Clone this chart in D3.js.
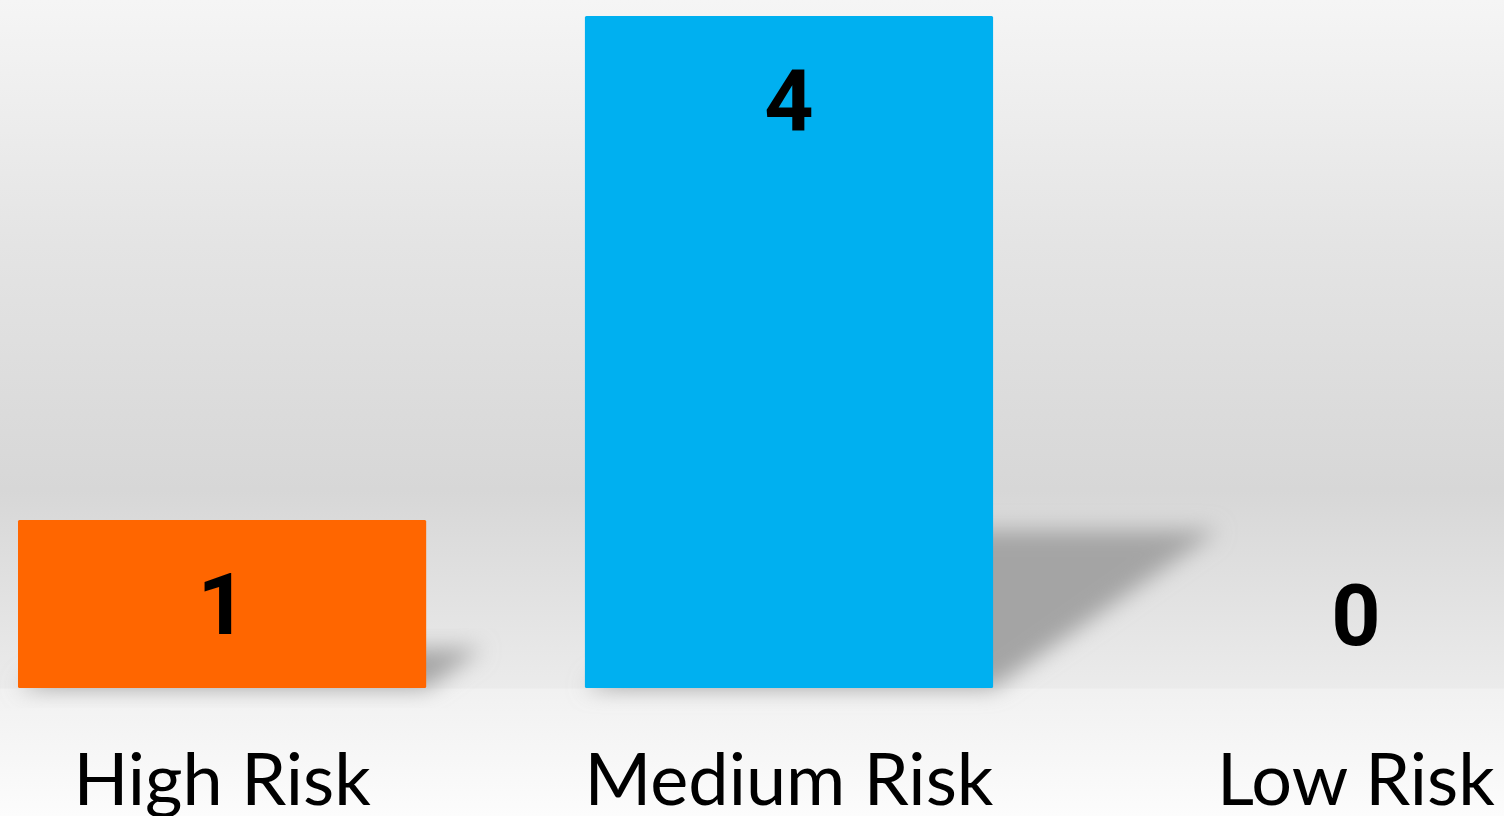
<!DOCTYPE html>
<html>
<head>
<meta charset="utf-8">
<script src="https://cdn.jsdelivr.net/npm/d3@7"></script>
<style>
  html, body { margin: 0; padding: 0; overflow: hidden; }
</style>
</head>
<body>
<script>
// chart data
var categories = ['High Risk', 'Medium Risk', 'Low Risk'];
var values = [1, 4, 0];
var colors = ['#ff6600', '#00b0f0', '#a5a5a5'];

w = 1504;
h = 816;
baseline = 688;

var svg = d3.select("body")
  .append("svg")
    .attr("width", w)
    .attr("height", h);

var defs = svg.append("defs");

// background gradient (wall + floor)
var bg = defs.append("linearGradient")
    .attr("id", "bg")
    .attr("x1", 0).attr("y1", 0).attr("x2", 0).attr("y2", 1);
bg.append("stop").attr("offset", 0).attr("stop-color", "#f5f5f5");
bg.append("stop").attr("offset", 0.3).attr("stop-color", "#e4e4e4");
bg.append("stop").attr("offset", 0.6).attr("stop-color", "#d7d7d7");
bg.append("stop").attr("offset", 0.843).attr("stop-color", "#ebebeb");
bg.append("stop").attr("offset", 0.845).attr("stop-color", "#f1f1f1");
bg.append("stop").attr("offset", 1).attr("stop-color", "#fcfcfc");

var blur = defs.append("filter")
    .attr("id", "blur")
    .attr("x", "-50%").attr("y", "-50%").attr("width", "200%").attr("height", "200%");
blur.append("feGaussianBlur").attr("stdDeviation", 11);

svg.append("rect")
    .attr("width", w)
    .attr("height", h)
    .attr("fill", "url(#bg)");

// scales
x = d3.scaleBand()
  .domain(categories)
  .range([18, 1560])
  .paddingInner(0.28)
  .paddingOuter(0);

y = d3.scaleLinear()
  .domain([0, 4])
  .range([baseline, 16]);

// shadows cast to the back right
svg.selectAll(".shadow")
  .data(values)
  .enter().append("path")
    .attr("class", "shadow")
    .attr("fill", "#a4a4a4")
    .attr("filter", "url(#blur)")
    .attr("d", function(d, i) {
      var bh = baseline - y(d);
      if (bh <= 0) return null;
      var x0 = x(categories[i]), x1 = x0 + x.bandwidth();
      var dx = bh * 0.335, dh = bh * 0.235;
      return "M" + x0 + "," + baseline +
             "L" + x1 + "," + baseline +
             "L" + (x1 + dx) + "," + (baseline - dh) +
             "L" + (x0 + dx) + "," + (baseline - dh) + "Z";
    });

// bars
svg.selectAll(".bar")
  .data(values)
  .enter().append("rect")
    .attr("class", "bar")
    .attr("x", function(d, i) { return x(categories[i]); })
    .attr("y", function(d) { return y(d); })
    .attr("width", x.bandwidth())
    .attr("height", function(d) { return baseline - y(d); })
    .attr("rx", 1.5)
    .attr("fill", function(d, i) { return colors[i]; });

// value labels
svg.selectAll(".value")
  .data(values)
  .enter().append("text")
    .attr("class", "value")
    .attr("x", function(d, i) { return x(categories[i]) + x.bandwidth() / 2; })
    .attr("y", function(d) { return d > 0 ? y(d) + 114 : baseline - 43; })
    .attr("text-anchor", "middle")
    .style("font-family", "Roboto, 'Open Sans', sans-serif")
    .style("font-weight", "bold")
    .style("font-size", "86px")
    .attr("fill", "#000")
    .text(function(d) { return d; });

// category labels
svg.selectAll(".cat")
  .data(categories)
  .enter().append("text")
    .attr("class", "cat")
    .attr("x", function(d) { return x(d) + x.bandwidth() / 2; })
    .attr("y", 805)
    .attr("text-anchor", "middle")
    .style("font-family", "Lato, 'Open Sans', sans-serif")
    .style("font-size", "72px")
    .attr("fill", "#000")
    .text(function(d) { return d; });
</script>
</body>
</html>
